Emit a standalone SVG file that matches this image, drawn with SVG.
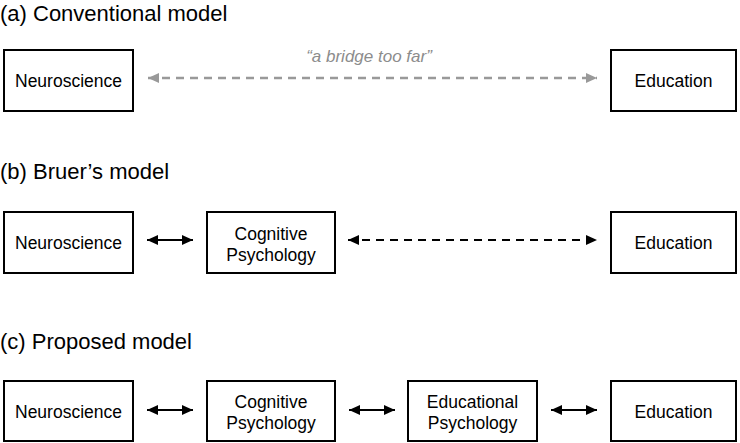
<svg xmlns="http://www.w3.org/2000/svg" width="740" height="443" viewBox="0 0 740 443">
<style>
.title{font-family:"Liberation Sans",Arial,sans-serif;font-size:22px;fill:#000}
.box{fill:#fff;stroke:#000;stroke-width:2}
.lbl{font-family:"Liberation Sans",Arial,sans-serif;font-size:17.5px;fill:#000;text-anchor:middle}
.solid{stroke:#000;stroke-width:2;fill:none;marker-start:url(#ahB);marker-end:url(#ahB)}
.dashB{stroke:#000;stroke-width:2;stroke-dasharray:8 6;fill:none;marker-start:url(#ahB);marker-end:url(#ahB)}
.dashG{stroke:#999;stroke-width:2.5;stroke-dasharray:8 6;fill:none;marker-start:url(#ahG);marker-end:url(#ahG)}
.note{font-family:"Liberation Sans",Arial,sans-serif;font-size:17px;font-style:italic;fill:#8c8c8c;text-anchor:middle}
</style>
<defs>
<marker id="ahB" markerUnits="userSpaceOnUse" markerWidth="12" markerHeight="12" refX="11" refY="6" orient="auto-start-reverse"><path d="M0,1 L11,6 L0,11 z" fill="#000"/></marker>
<marker id="ahG" markerUnits="userSpaceOnUse" markerWidth="12" markerHeight="12" refX="11" refY="6" orient="auto-start-reverse"><path d="M0,1 L11,6 L0,11 z" fill="#999"/></marker>
</defs>
<rect width="740" height="443" fill="#fff"/>
<text class="title" x="0" y="21">(a) Conventional model</text>
<text class="title" x="0" y="179">(b) Bruer’s model</text>
<text class="title" x="0" y="349">(c) Proposed model</text>
<g id="connectors">
<path class="dashG" d="M148,78 H597"/>
<text class="note" x="369" y="62">“a bridge too far”</text>
<path class="solid" d="M147,240 H193"/>
<path class="dashB" d="M348,240 H597"/>
<path class="solid" d="M147,410 H193"/>
<path class="solid" d="M349,410 H395"/>
<path class="solid" d="M551,410 H597"/>
</g>
<g id="a-neuro"><rect class="box" x="4" y="50" width="129" height="61"/><text class="lbl" x="68.5" y="87">Neuroscience</text></g>
<g id="a-edu"><rect class="box" x="611" y="50" width="125" height="61"/><text class="lbl" x="673.5" y="87">Education</text></g>
<g id="b-neuro"><rect class="box" x="4" y="212" width="129" height="61"/><text class="lbl" x="68.5" y="249">Neuroscience</text></g>
<g id="b-cog"><rect class="box" x="207" y="212" width="128" height="61"/><text class="lbl" x="271" y="239.5">Cognitive</text><text class="lbl" x="271" y="260.5">Psychology</text></g>
<g id="b-edu"><rect class="box" x="611" y="212" width="125" height="61"/><text class="lbl" x="673.5" y="249">Education</text></g>
<g id="c-neuro"><rect class="box" x="4" y="381" width="129" height="60"/><text class="lbl" x="68.5" y="417.5">Neuroscience</text></g>
<g id="c-cog"><rect class="box" x="207" y="381" width="128" height="60"/><text class="lbl" x="271" y="408">Cognitive</text><text class="lbl" x="271" y="429">Psychology</text></g>
<g id="c-edpsy"><rect class="box" x="408" y="381" width="129" height="60"/><text class="lbl" x="472.5" y="408">Educational</text><text class="lbl" x="472.5" y="429">Psychology</text></g>
<g id="c-edu"><rect class="box" x="611" y="381" width="125" height="60"/><text class="lbl" x="673.5" y="417.5">Education</text></g>
</svg>
